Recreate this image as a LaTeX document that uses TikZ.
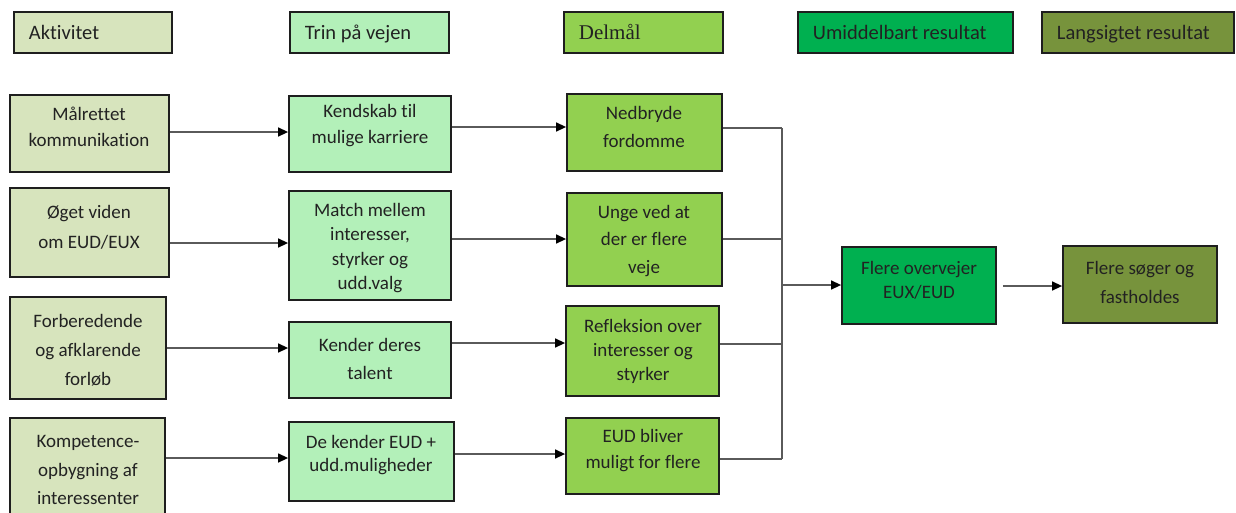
\documentclass[tikz,border=0pt]{standalone}
\usepackage{fontspec}
\setmainfont{Carlito}[Ligatures=NoCommon]
\newfontfamily\serifh{Liberation Serif}
\usetikzlibrary{arrows.meta}
\definecolor{akt}{HTML}{D7E4BD}
\definecolor{trin}{HTML}{B3F0B9}
\definecolor{delm}{HTML}{92D050}
\definecolor{umid}{HTML}{00B050}
\definecolor{lang}{HTML}{77933C}
\definecolor{edge}{HTML}{1E1E1E}
\definecolor{wire}{HTML}{5A5A5A}
\definecolor{ink}{HTML}{222222}
\newcommand\boxat[6]{%
  \node[box,fill=#6,minimum width={#4-#2},minimum height={#5-#3}] (#1) at ({(#2+#4)/2},{(#3+#5)/2}) {};}
\begin{document}
\begin{tikzpicture}[x=1pt,y=-1pt,
  box/.style={draw=edge,line width=1.8pt,inner sep=0pt},
  hbox/.style={box,align=flush left,inner xsep=15pt,inner ysep=0pt,text height=18pt,text depth=4pt,font=\fontsize{20.5}{24}\selectfont,text=ink,anchor=west,minimum height=41},
  txt/.style={align=center,text=ink,inner sep=0pt,font=\fontsize{19}{#1}\selectfont},
  arr/.style={draw=wire,line width=1.4pt,-{Triangle[length=10pt,width=9pt,fill=black,color=black]}},
  wireline/.style={draw=wire,line width=1.1pt}]
\useasboundingbox (0,0) rectangle (1236,512);

% headers
\node[hbox,fill=akt,text width=128] (h1) at (13,32.5) {Aktivitet};
\node[hbox,fill=trin,text width=129] (h2) at (289,32.5) {Trin på vejen};
\node[hbox,fill=delm,text width=129,font=\serifh\fontsize{21}{24}\selectfont] (h3) at (563,32.5) {Delmål};
\node[hbox,fill=umid,text width=185] (h4) at (797,32.5) {Umiddelbart resultat};
\node[hbox,fill=lang,text width=162] (h5) at (1041,32.5) {Langsigtet resultat};

% column 1
\boxat{A1}{10}{95}{169}{172}{akt}
\boxat{A2}{10}{188}{169}{277}{akt}
\boxat{A3}{10}{297}{166}{399}{akt}
\boxat{A4}{10}{418}{165}{524}{akt}
\node[txt=26] (A1t) at (89,127) {Målrettet\\kommunikation};
\node[txt=30] (A2t) at (89,227) {Øget viden\\om EUD/EUX};
\node[txt=29] (A3t) at (88,350) {Forberedende\\og afklarende\\forløb};
\node[txt=28.5] (A4t) at (88,470) {Kompetence-\\opbygning af\\interessenter};

% column 2
\boxat{B1}{289}{96}{451}{172}{trin}
\boxat{B2}{289}{191}{451}{300}{trin}
\boxat{B3}{289}{322}{451}{398}{trin}
\boxat{B4}{289}{422}{454}{501}{trin}
\node[txt=26] (B1t) at (370,126) {Kendskab til\\mulige karriere};
\node[txt=24.5] (B2t) at (370,248) {Match mellem\\interesser,\\styrker og\\udd.valg};
\node[txt=28] (B3t) at (370,359) {Kender deres\\talent};
\node[txt=23] (B4t) at (371,455) {De kender EUD +\\udd.muligheder};

% column 3
\boxat{C1}{567}{94}{722}{171}{delm}
\boxat{C2}{567}{193}{722}{286}{delm}
\boxat{C3}{566}{306}{719}{396}{delm}
\boxat{C4}{566}{418}{719}{494}{delm}
\node[txt=28] (C1t) at (644,127) {Nedbryde\\fordomme};
\node[txt=27.5] (C2t) at (644,241) {Unge ved at\\der er flere\\veje};
\node[txt=24] (C3t) at (643,351) {Refleksion over\\interesser og\\styrker};
\node[txt=26] (C4t) at (643,451) {EUD bliver\\muligt for flere};

% results
\boxat{D}{842}{247}{996}{324}{umid}
\boxat{E}{1063}{246}{1217}{323}{lang}
\node[txt=24] (Dt) at (919,280) {Flere overvejer\\EUX/EUD};
\node[txt=29] (Et) at (1140,282) {Flere søger og\\fastholdes};

% arrows col1 -> col2
\draw[arr] (A1.east |- 0,132) -- (B1.west |- 0,132);
\draw[arr] (A2.east |- 0,243) -- (B2.west |- 0,243);
\draw[arr] (A3.east |- 0,348) -- (B3.west |- 0,348);
\draw[arr] (A4.east |- 0,458) -- (B4.west |- 0,458);

% arrows col2 -> col3
\draw[arr] (B1.east |- 0,127) -- (C1.west |- 0,127);
\draw[arr] (B2.east |- 0,239) -- (C2.west |- 0,239);
\draw[arr] (B3.east |- 0,343) -- (C3.west |- 0,343);
\draw[arr] (B4.east |- 0,454) -- (C4.west |- 0,454);

% bus
\coordinate (bt) at (782,128);
\coordinate (bb) at (782,459);
\coordinate (bm) at (782,285);
\draw[wireline] (C1.east |- bt) -- (bt);
\draw[wireline] (C2.east |- 0,239) -- (bt |- 0,239);
\draw[wireline] (C3.east |- 0,344) -- (bt |- 0,344);
\draw[wireline] (C4.east |- bb) -- (bb);
\draw[wireline] (bt) -- (bb);
\draw[arr] (bm) -- (D.west |- bm);
\draw[arr,shorten <=6pt] (D.east |- 0,286) -- (E.west |- 0,286);
\end{tikzpicture}
\end{document}
